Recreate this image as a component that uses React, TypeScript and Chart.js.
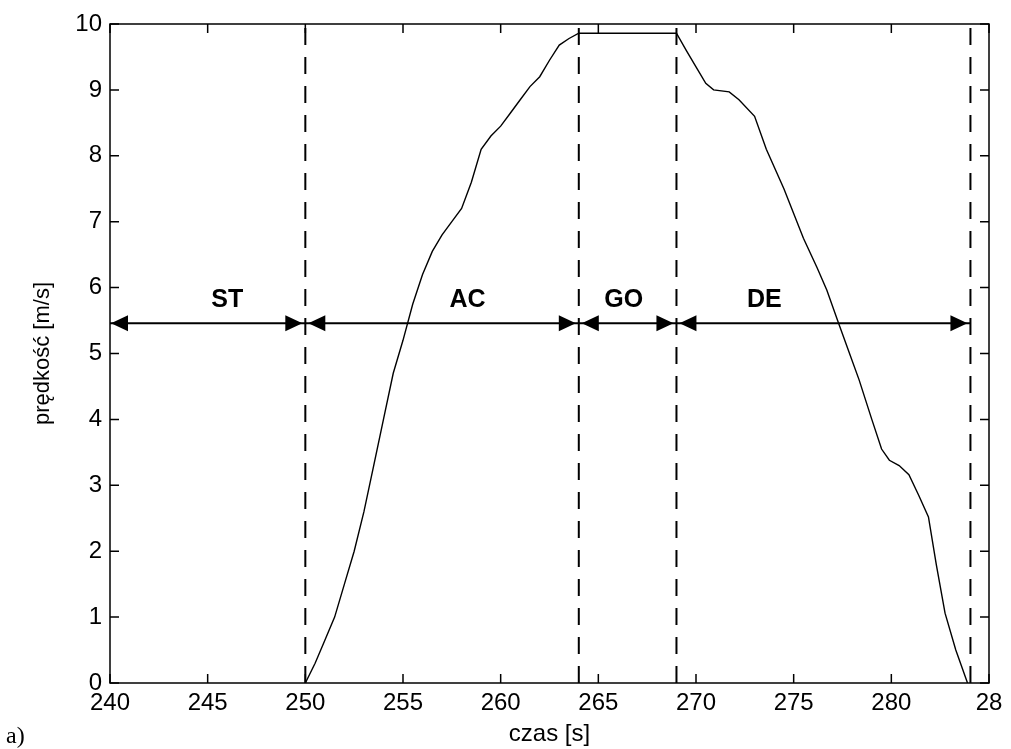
import { useEffect, useRef } from 'react';
import { Chart, registerables } from 'chart.js';
Chart.register(...registerables);

// measured speed profile
const timeS = [250, 250.5, 251, 251.5, 252, 252.5, 253, 253.5, 254, 254.5, 255, 255.5, 256, 256.5, 257, 257.5, 258, 258.5, 259, 259.5, 260, 260.5, 261, 261.5, 262, 262.5, 263, 263.5, 264, 269, 269.5, 270, 270.5, 270.9, 271.7, 272.2, 273, 273.6, 274.5, 275.5, 276.2, 276.7, 277.3, 277.8, 278.35, 279, 279.5, 279.9, 280.4, 280.9, 281.4, 281.9, 282.3, 282.75, 283.3, 283.9];
const speedMs = [0, 0.3, 0.65, 1.0, 1.5, 2.0, 2.6, 3.3, 4.0, 4.7, 5.2, 5.75, 6.2, 6.55, 6.8, 7.0, 7.2, 7.6, 8.1, 8.3, 8.45, 8.65, 8.85, 9.05, 9.2, 9.45, 9.68, 9.78, 9.86, 9.86, 9.6, 9.35, 9.1, 9.0, 8.97, 8.85, 8.6, 8.1, 7.5, 6.75, 6.3, 5.96, 5.46, 5.05, 4.6, 4.0, 3.55, 3.38, 3.3, 3.16, 2.85, 2.52, 1.8, 1.06, 0.5, 0];

// phases
const phaseBounds = [240, 250, 264, 269, 284.05];
const dashedX = [250, 264, 269, 284.05];
const phaseLabels = ['ST', 'AC', 'GO', 'DE'];
const labelX = [246, 258.3, 266.3, 273.5];
const labelY = 5.81;
const arrowY = 5.46;

// axes
const xMin = 240;
const xMax = 285;
const xStep = 5;
const yMin = 0;
const yMax = 10;
const yStep = 1;
const xTickLabels: Record<number, string> = { 240: '240', 245: '245', 250: '250', 255: '255', 260: '260', 265: '265', 270: '270', 275: '275', 280: '280', 285: '28' };

const FONT = '"Liberation Sans", Arial, Helvetica, sans-serif';

const boxPlugin = {
  id: 'matlabBox',
  afterDatasetsDraw(chart: any) {
    const { ctx, chartArea: a, scales } = chart;
    const xs = scales.x;
    const ys = scales.y;
    ctx.save();
    // arrows
    ctx.fillStyle = '#000';
    const yA = ys.getPixelForValue(arrowY);
    const L = 17;
    const H = 8;
    for (let i = 0; i < phaseBounds.length - 1; i++) {
      const xa = xs.getPixelForValue(phaseBounds[i]) + (i === 0 ? 1 : 3);
      const xb = xs.getPixelForValue(phaseBounds[i + 1]) - 3;
      ctx.beginPath();
      ctx.moveTo(xa, yA);
      ctx.lineTo(xa + L, yA - H);
      ctx.lineTo(xa + L, yA + H);
      ctx.closePath();
      ctx.fill();
      ctx.beginPath();
      ctx.moveTo(xb, yA);
      ctx.lineTo(xb - L, yA - H);
      ctx.lineTo(xb - L, yA + H);
      ctx.closePath();
      ctx.fill();
    }
    // labels
    ctx.font = 'bold 25px ' + FONT;
    ctx.textAlign = 'center';
    ctx.textBaseline = 'middle';
    for (let i = 0; i < phaseLabels.length; i++) {
      ctx.fillText(phaseLabels[i], xs.getPixelForValue(labelX[i]), ys.getPixelForValue(labelY));
    }
    // box and inward ticks
    ctx.strokeStyle = '#000';
    ctx.lineWidth = 1.5;
    ctx.strokeRect(a.left, a.top, a.right - a.left, a.bottom - a.top);
    const T = 9;
    ctx.beginPath();
    xs.ticks.forEach((t: any) => {
      const x = xs.getPixelForValue(t.value);
      ctx.moveTo(x, a.bottom);
      ctx.lineTo(x, a.bottom - T);
      ctx.moveTo(x, a.top);
      ctx.lineTo(x, a.top + T);
    });
    ys.ticks.forEach((t: any) => {
      const y = ys.getPixelForValue(t.value);
      ctx.moveTo(a.left, y);
      ctx.lineTo(a.left + T, y);
      ctx.moveTo(a.right, y);
      ctx.lineTo(a.right - T, y);
    });
    ctx.stroke();
    ctx.restore();
  },
};

export default function App() {
  const ref = useRef<HTMLCanvasElement>(null);
  useEffect(() => {
    const curve = timeS.map((t, i) => ({ x: t, y: speedMs[i] }));
    const dashSets = dashedX.map((x) => ({
      data: [{ x, y: yMin }, { x, y: yMax }],
      borderColor: '#000',
      borderWidth: 2,
      borderDash: [17, 12],
      pointRadius: 0,
      showLine: true,
    }));
    const chart = new Chart(ref.current as HTMLCanvasElement, {
      type: 'scatter',
      data: {
        datasets: [
          { data: curve, borderColor: '#000', borderWidth: 1.4, pointRadius: 0, showLine: true, tension: 0 },
          ...dashSets,
          {
            data: [{ x: phaseBounds[0], y: arrowY }, { x: phaseBounds[phaseBounds.length - 1], y: arrowY }],
            borderColor: '#000',
            borderWidth: 2,
            pointRadius: 0,
            showLine: true,
          },
        ] as any,
      },
      options: {
        animation: false,
        responsive: true,
        maintainAspectRatio: false,
        layout: { padding: { top: 24, right: 22, left: 0, bottom: 0 } },
        plugins: { legend: { display: false }, tooltip: { enabled: false } },
        scales: {
          x: {
            type: 'linear',
            min: xMin,
            max: xMax,
            grid: { display: false, drawTicks: false },
            border: { display: false },
            afterFit: (s: any) => { s.height = 66; },
            afterBuildTicks: (s: any) => {
              const arr = [];
              for (let v = xMin; v <= xMax; v += xStep) arr.push({ value: v });
              s.ticks = arr;
            },
            ticks: {
              color: '#000',
              font: { family: FONT, size: 24 },
              padding: 6,
              maxRotation: 0,
              autoSkip: false,
              callback: (v: any) => xTickLabels[v as number] ?? String(v),
            },
            title: { display: true, text: 'czas [s]', color: '#000', font: { family: FONT, size: 24 }, padding: { top: 0, bottom: 0 } },
          },
          y: {
            type: 'linear',
            min: yMin,
            max: yMax,
            grid: { display: false, drawTicks: false },
            border: { display: false },
            afterFit: (s: any) => { s.width = 110; },
            ticks: { color: '#000', stepSize: yStep, font: { family: FONT, size: 24 }, padding: 8 },
            title: { display: true, text: 'prędkość [m/s]', color: '#000', font: { family: FONT, size: 22 }, padding: { top: 30, bottom: 0 } },
          },
        },
      },
      plugins: [boxPlugin],
    });
    return () => chart.destroy();
  }, []);
  return (
    <div style={{ position: 'fixed', left: 0, top: 0, width: 1011, height: 749, background: '#fff' }}>
      <canvas ref={ref} />
      <div style={{ position: 'absolute', left: 6, top: 722, font: '24px "Liberation Serif", "Times New Roman", serif', color: '#000' }}>a)</div>
    </div>
  );
}
